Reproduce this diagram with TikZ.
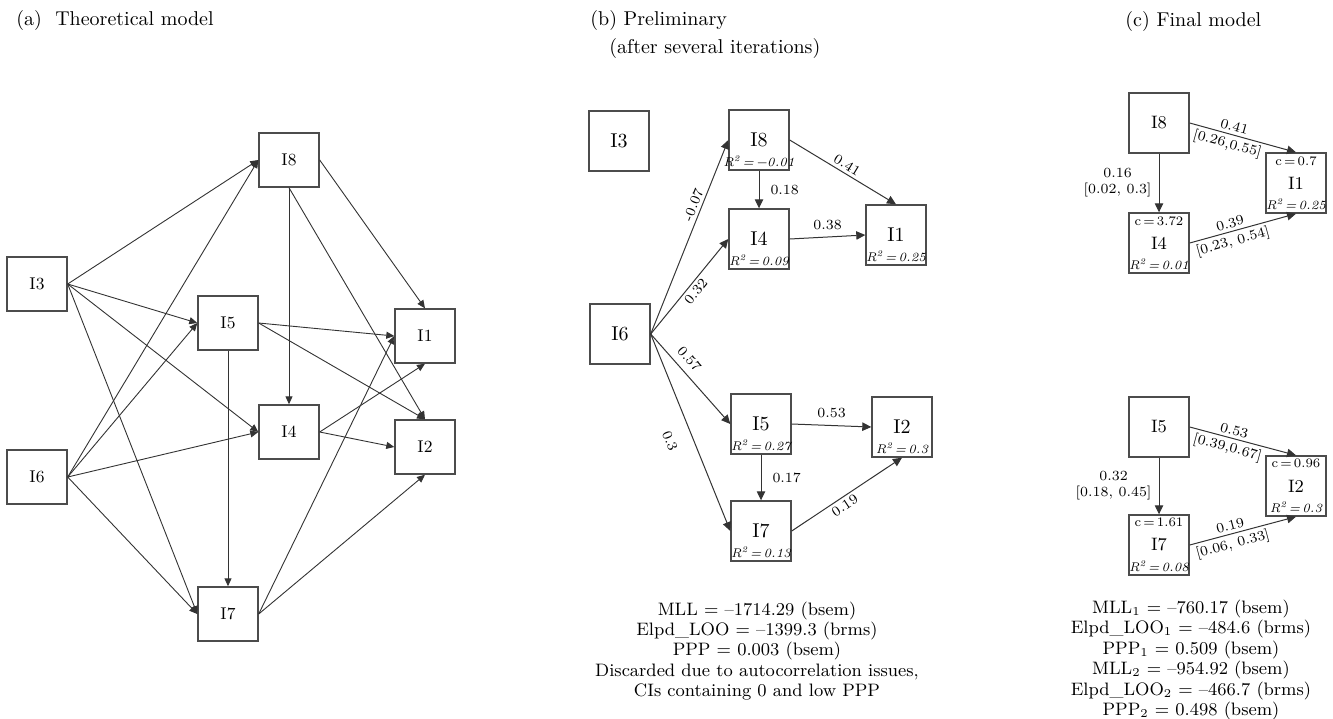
\documentclass[tikz,border=0pt]{standalone}
\usepackage[usenames,dvipsnames]{xcolor}
\usepackage{tikz}
\usetikzlibrary{arrows.meta}
\usetikzlibrary{calc}
\newcommand\rsqlabel[2]{% node, value
  \node[smalltext,anchor=south,font=\fontsize{6.3}{7}\selectfont\itshape] at (#1.south) {R\textsuperscript{2}\,=\,#2};
}
\newcommand\clabel[2]{% node, value
  \node[smalltext,anchor=north] at (#1.north) {c\,=\,#2};
}

\begin{document}
\begin{tikzpicture}[x=0.5pt,y=-0.5pt]
		\tikzstyle{varbox}=[draw=black!70,line width=0.7pt,minimum width=30pt,minimum height=30pt,inner sep=0pt]
		\tikzstyle{theobox}=[varbox,minimum height=27pt,font=\fontsize{8.5}{10}\selectfont]
		\tikzstyle{prelbox}=[varbox,font=\fontsize{10}{12}\selectfont]
		\tikzstyle{finbox}=[varbox,font=\fontsize{9}{11}\selectfont]
		\tikzstyle{TheoSty}=[-{Triangle[length=4pt,width=3.5pt]},draw=black!80,line width=0.45pt]
		\tikzstyle{PrelSty}=[-{Triangle[length=4.5pt,width=4.2pt]},draw=black!80,line width=0.5pt]
		\tikzstyle{smalltext}=[font=\fontsize{6.5}{7}\selectfont,inner sep=1.8pt]
		\tikzstyle{elabel}=[font=\fontsize{7}{8}\selectfont,inner sep=1.5pt]
		\tikzstyle{infotext}=[font=\fontsize{9}{10.2}\selectfont,align=center,inner sep=0pt]
		\tikzstyle{titletext}=[font=\fontsize{10}{13}\selectfont,anchor=base west,inner sep=0pt]

\useasboundingbox (0,0) rectangle (1333,718);

% titles
\node[titletext] (title_a) at (16,25) {(a)\ \ Theoretical model};
\node[titletext] (title_b) at (590,25) {(b) Preliminary};
\node[titletext] (title_b2) at (609,53) {(after several iterations)};
\node[titletext] (title_c) at (1125,26) {(c) Final model};

% (a) theoretical model
\node[theobox] (a_i3) at (37,284) {I3};
\node[theobox] (a_i6) at (37,477) {I6};
\node[theobox] (a_i8) at (289,160) {I8};
\node[theobox] (a_i5) at (228,323) {I5};
\node[theobox] (a_i4) at (289,432) {I4};
\node[theobox] (a_i7) at (228,614) {I7};
\node[theobox] (a_i1) at (425,336) {I1};
\node[theobox] (a_i2) at (425,447) {I2};

\foreach \from/\to in {a_i3.east/a_i8.west,a_i3.east/a_i5.west,a_i3.east/a_i4.west,a_i3.east/a_i7.west,
  a_i6.east/a_i8.west,a_i6.east/a_i5.west,a_i6.east/a_i4.west,a_i6.east/a_i7.west,
  a_i8.east/a_i1.north,a_i8.south/a_i4.north,a_i8.south/a_i2.north,
  a_i5.east/a_i1.west,a_i5.east/a_i2.north,a_i5.south/a_i7.north,
  a_i4.east/a_i1.south,a_i4.east/a_i2.west,a_i7.east/a_i1.west,a_i7.east/a_i2.south}
{
  \draw[TheoSty] (\from) -- (\to);
}

% (b) preliminary
\node[prelbox] (b_i3) at (619,141) {I3};
\node[prelbox] (b_i8) at (759,140) {I8};
\node[prelbox] (b_i4) at (759,239) {I4};
\node[prelbox] (b_i1) at (896,235) {I1};
\node[prelbox] (b_i6) at (620,334) {I6};
\node[prelbox] (b_i5) at (761,424) {I5};
\node[prelbox] (b_i2) at (902,427) {I2};
\node[prelbox] (b_i7) at (761,531) {I7};

\rsqlabel{b_i8}{−0.01}
\rsqlabel{b_i4}{0.09}
\rsqlabel{b_i1}{0.25}
\rsqlabel{b_i5}{0.27}
\rsqlabel{b_i2}{0.3}
\rsqlabel{b_i7}{0.13}

\draw[PrelSty] (b_i6.east) -- node[elabel,sloped,above,pos=0.65] {-0.07} (b_i8.west);
\draw[PrelSty] (b_i6.east) -- node[elabel,sloped,below,pos=0.5] {0.32} (b_i4.west);
\draw[PrelSty] (b_i6.east) -- node[elabel,sloped,above=2pt,pos=0.37] {0.57} (b_i5.west);
\draw[PrelSty] (b_i6.east) -- node[elabel,sloped,below=7pt,pos=0.5] {0.3} (b_i7.west);
\draw[PrelSty] (b_i8.east) -- node[elabel,sloped,above] {0.41} (b_i1.north);
\draw[PrelSty] (b_i8.south) -- node[elabel,right=4pt] {0.18} (b_i4.north);
\draw[PrelSty] (b_i4.east) -- node[elabel,above=2pt] {0.38} (b_i1.west);
\draw[PrelSty] (b_i5.east) -- node[elabel,above=2pt] {0.53} (b_i2.west);
\draw[PrelSty] (b_i5.south) -- node[elabel,right=4pt] {0.17} (b_i7.north);
\draw[PrelSty] (b_i7.east) -- node[elabel,sloped,below,pos=0.44] {0.19} (b_i2.south);

\node[infotext] (b_info) at (757,651) {MLL = --1714.29 (bsem)\\Elpd\_LOO = --1399.3 (brms)\\PPP = 0.003 (bsem)\\Discarded due to autocorrelation issues,\\CIs containing 0 and low PPP};

% (c) final model
\node[finbox] (c_i8) at (1159,123) {I8};
\node[finbox] (c_i4) at (1159,243) {I4};
\node[finbox] (c_i1) at (1296,183) {I1};
\node[finbox] (c_i5) at (1159,427) {I5};
\node[finbox] (c_i7) at (1159,545) {I7};
\node[finbox] (c_i2) at (1296,486) {I2};

\clabel{c_i4}{3.72}
\clabel{c_i1}{0.7}
\clabel{c_i7}{1.61}
\clabel{c_i2}{0.96}
\rsqlabel{c_i4}{0.01}
\rsqlabel{c_i1}{0.25}
\rsqlabel{c_i7}{0.08}
\rsqlabel{c_i2}{0.3}

\draw[PrelSty] (c_i8.south) -- node[elabel,left=2pt,align=center] {0.16\\{}[0.02, 0.3]} (c_i4.north);
\draw[PrelSty] (c_i8.east) -- node[elabel,sloped,above,pos=0.4] {0.41} node[elabel,sloped,below,pos=0.38] {[0.26,0.55]} (c_i1.north);
\draw[PrelSty] (c_i4.east) -- node[elabel,sloped,above,pos=0.4] {0.39} node[elabel,sloped,below,pos=0.38] {[0.23, 0.54]} (c_i1.south);
\draw[PrelSty] (c_i5.south) -- node[elabel,left=2pt,align=center] {0.32\\{}[0.18, 0.45]} (c_i7.north);
\draw[PrelSty] (c_i5.east) -- node[elabel,sloped,above,pos=0.4] {0.53} node[elabel,sloped,below,pos=0.38] {[0.39,0.67]} (c_i2.north);
\draw[PrelSty] (c_i7.east) -- node[elabel,sloped,above,pos=0.4] {0.19} node[elabel,sloped,below,pos=0.38] {[0.06, 0.33]} (c_i2.south);

\node[infotext] (c_info) at (1191,660) {MLL$_1$ = --760.17 (bsem)\\Elpd\_LOO$_1$ = --484.6 (brms)\\PPP$_1$ = 0.509 (bsem)\\MLL$_2$ = --954.92 (bsem)\\Elpd\_LOO$_2$ = --466.7 (brms)\\PPP$_2$ = 0.498 (bsem)};

\end{tikzpicture}
\end{document}
